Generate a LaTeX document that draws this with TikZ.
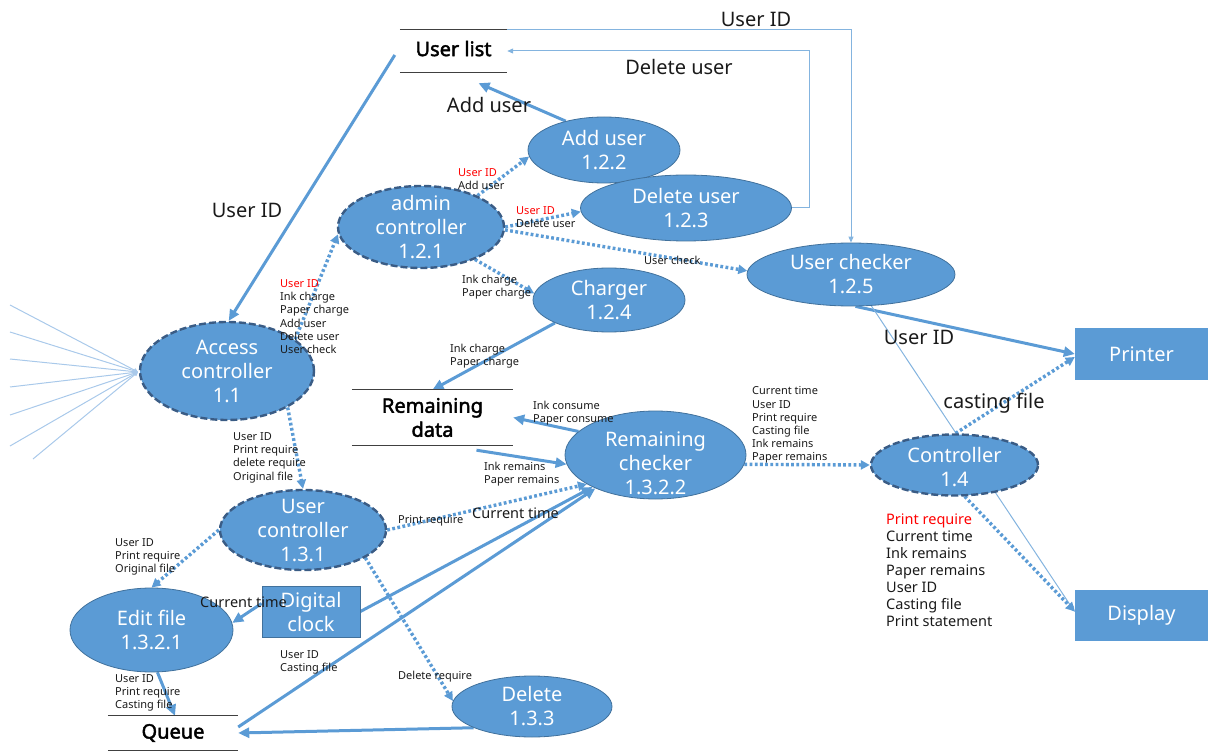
\documentclass[tikz,border=0pt]{standalone}
\usepackage{fontspec}
\setmainfont{Noto Sans}[AutoFakeBold=2.2]
\usetikzlibrary{arrows.meta,shapes.geometric,calc}
\pgfdeclarelayer{background}
\pgfsetlayers{background,main}
\definecolor{nblue}{HTML}{5B9BD5}
\definecolor{nborder}{HTML}{41719C}
\definecolor{ndash}{HTML}{3A5C85}
\definecolor{lblue}{HTML}{A9C9EA}
\definecolor{tred}{HTML}{FF0000}
\definecolor{tdark}{HTML}{1A1A1A}
\newcommand\fsBig{\fontsize{20}{24}\selectfont}
\newcommand\fsMed{\fontsize{14.5}{17}\selectfont}
\newcommand\fsSmall{\fontsize{11}{13.2}\selectfont}
\begin{document}
\begin{tikzpicture}[x=1pt,y=-1pt,
  proc/.style={ellipse, draw=nborder, line width=0.8pt, fill=nblue, inner sep=0pt},
  dproc/.style={proc, draw=ndash, line width=2.4pt, dash pattern=on 7pt off 3pt},
  ptext/.style={text=white, font=\fsBig, align=center, inner sep=0pt},
  ext/.style={rectangle, fill=nblue, text=white, font=\fsBig, inner sep=0pt, align=center},
  store/.style={font=\fsBig\bfseries, align=center, inner sep=0pt, text=black},
  storeline/.style={draw=black!75, line width=1.2pt},
  lbl/.style={font=\fsSmall, align=left, inner sep=0pt, anchor=north west, text=tdark},
  mlbl/.style={font=\fsMed, align=left, inner sep=0pt, anchor=north west, text=tdark},
  blbl/.style={font=\fsBig, inner sep=0pt, text=tdark},
  flow/.style={draw=nblue, line width=3pt, -{Triangle[length=11pt,width=10pt]}},
  dflow/.style={draw=nblue, line width=3.4pt, dash pattern=on 2.8pt off 2.4pt, -{Triangle[length=9pt,width=9pt]}},
  thinflow/.style={draw=nblue!75, line width=1pt, -{Triangle[length=6pt,width=5pt]}},
  fan/.style={draw=lblue, line width=1pt, -{Triangle[length=4pt,width=4pt]}}
]
\useasboundingbox (0,0) rectangle (1208,751);

% processes
\node[proc, minimum width=152pt, minimum height=66pt, label={[ptext]center:{Add user\\1.2.2}}] (add) at (604,150) {};
\node[proc, minimum width=211pt, minimum height=66pt, label={[ptext]center:{Delete user\\1.2.3}}] (del) at (686,208) {};
\node[dproc, minimum width=166pt, minimum height=82pt, label={[ptext]center:{admin\\controller\\1.2.1}}] (adm) at (421,227) {};
\node[proc, minimum width=152pt, minimum height=64pt, label={[ptext]center:{Charger\\1.2.4}}] (cha) at (609,300) {};
\node[proc, minimum width=208pt, minimum height=63pt, label={[ptext]center:{User checker\\1.2.5}}] (uc) at (851,274.5) {};
\node[dproc, minimum width=174pt, minimum height=98pt, label={[ptext]center:{Access\\controller\\1.1}}] (acc) at (227,371) {};
\node[proc, minimum width=181pt, minimum height=88pt, label={[ptext,yshift=-8pt]center:{Remaining\\checker\\1.3.2.2}}] (rc) at (655.5,455) {};
\node[dproc, minimum width=167pt, minimum height=61pt, label={[ptext,yshift=-2pt]center:{Controller\\1.4}}] (ctl) at (954.5,465) {};
\node[dproc, minimum width=166pt, minimum height=80pt, label={[ptext]center:{User\\controller\\1.3.1}}] (uctl) at (303,530) {};
\node[proc, minimum width=163pt, minimum height=84pt, label={[ptext]center:{Edit file\\1.3.2.1}}] (ef) at (151.5,630) {};
\node[proc, minimum width=160pt, minimum height=61pt, label={[ptext]center:{Delete\\1.3.3}}] (del3) at (532,706.5) {};

% external entities
\node[ext, minimum width=133pt, minimum height=52pt] (pr) at (1141.5,354) {Printer};
\node[ext, minimum width=133pt, minimum height=51pt] (ds) at (1141.5,615.5) {Display};
\node[ext, draw=nborder, line width=0.8pt, minimum width=98pt, minimum height=51pt] (dc) at (311,611.5) {Digital\\clock};

% data stores
\node[store, minimum width=107pt, minimum height=42pt] (ul) at (453.5,51) {\raisebox{5pt}{User list}};
\node[store, minimum width=161pt, minimum height=55pt] (rd) at (432.5,417.5) {Remaining\\data};
\node[store, minimum width=130pt, minimum height=34pt] (q) at (173,733) {Queue};
\draw[storeline] (ul.north west) -- (ul.north east) (ul.south west) -- (ul.south east);
\draw[storeline] (rd.north west) -- (rd.north east) (rd.south west) -- (rd.south east);
\draw[storeline] (q.north west) -- (q.north east) (q.south west) -- (q.south east);

% fan coordinates
\coordinate (f1) at (10,305);
\coordinate (f2) at (10,332);
\coordinate (f3) at (10,359);
\coordinate (f4) at (10,387);
\coordinate (f5) at (10,415);
\coordinate (f6) at (10,446);
\coordinate (f7) at (33,459);
\coordinate (fend) at (138,372);

\begin{pgfonlayer}{background}
\draw[flow] ([shift={(-5,4)}]ul.west) -- (acc.88);
\draw[flow] (add.143) -- ([shift={(25,11)}]ul.south);
\draw[thinflow] (del.east) -- ++(18,0) |- (ul.east);
\draw[thinflow] (ul.north east) -| (uc.north);
\draw[dflow] (adm.29) -- (add.185);
\draw[dflow] (adm.0) -- (del.182);
\draw[dflow] (adm.-2) -- (uc.178);
\draw[dflow] (adm.-31) -- (cha.175);
\draw[dflow] (acc.25) -- (adm.185);
\draw[flow] (cha.203) -- (rd.north);
\draw[flow] (rc.163) -- (rd.east);
\draw[flow] ([shift={(44,5)}]rd.south) -- (rc.186);
\draw[dflow] (acc.-31) -- (uctl.north);
\draw[dflow] (uctl.east) -- (rc.203);
\draw[flow] (dc.east) -- (rc.207);
\draw[flow] ([yshift=6pt]q.east) -- (rc.209);
\draw[flow] ([yshift=8pt]dc.west) -- (ef.5);
\draw[dflow] (uctl.180) -- (ef.north);
\draw[flow] (ef.-82) -- ([xshift=2pt]q.north);
\draw[dflow] (uctl.-24) -- (del3.176);
\draw[flow] (del3.200) -- (q.east);
\draw[dflow] (rc.-6) -- (ctl.180);
\draw[flow] (uc.-82) -- (pr.west);
\draw[thinflow] (uc.-57) -- ([yshift=3.5pt]ds.west);
\draw[dflow] (ctl.-72) -- ([yshift=4pt]ds.west);
\draw[dflow] (ctl.88) -- ([yshift=-3pt]pr.west);
\foreach \f in {f1,f2,f3,f4,f5,f6,f7} \draw[fan] (\f) -- (fend);
\end{pgfonlayer}

% big labels
\node[blbl] (b1) at (247,210) {User ID};
\node[blbl] (b2) at (489,105) {Add user};
\node[blbl] (b3) at (679,67) {Delete user};
\node[blbl] (b4) at (756,19) {User ID};
\node[blbl] (b5) at (919,337) {User ID};
\node[blbl] (b6) at (994,403) {casting file};

% medium labels
\node[mlbl] (m1) at (472,507.5) {Current time};
\node[mlbl] (m2) at (200,596.5) {Current time};
\node[mlbl] (m3) at (886,513.5) {{\color{tred}Print require}\\Current time\\Ink remains\\Paper remains\\User ID\\Casting file\\Print statement};

% small labels
\node[lbl] (s1) at (280,279.5) {{\color{tred}User ID}\\Ink charge\\Paper charge\\Add user\\Delete user\\User check};
\node[lbl] (s2) at (458,168.5) {{\color{tred}User ID}\\Add user};
\node[lbl] (s3) at (516,206.5) {{\color{tred}User ID}\\Delete user};
\node[lbl] (s4) at (644,255.5) {User check};
\node[lbl] (s5) at (462,274.5) {Ink charge\\Paper charge};
\node[lbl] (s6) at (450,343.5) {Ink charge\\Paper charge};
\node[lbl] (s7) at (533,400.5) {Ink consume\\Paper consume};
\node[lbl] (s8) at (484,461.5) {Ink remains\\Paper remains};
\node[lbl] (s9) at (233,432.5) {User ID\\Print require\\delete require\\Original file};
\node[lbl] (s10) at (752,386.5) {Current time\\User ID\\Print require\\Casting file\\Ink remains\\Paper remains};
\node[lbl] (s11) at (398,515.5) {Print require};
\node[lbl] (s12) at (115,538.5) {User ID\\Print require\\Original file};
\node[lbl] (s13) at (115,674.5) {User ID\\Print require\\Casting file};
\node[lbl] (s14) at (280,650.5) {User ID\\Casting file};
\node[lbl] (s15) at (398,670.5) {Delete require};
\end{tikzpicture}
\end{document}
